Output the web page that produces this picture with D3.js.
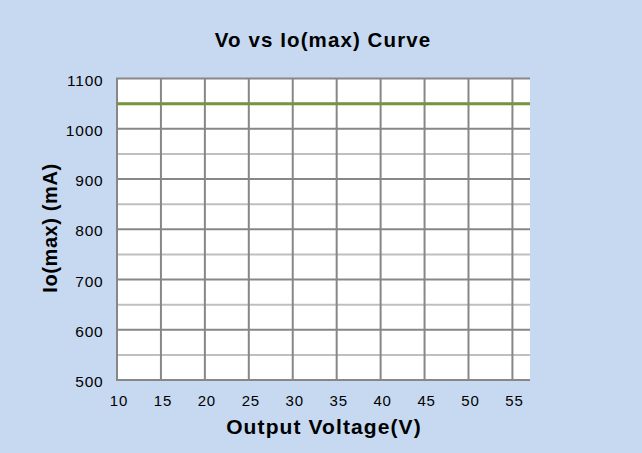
<!DOCTYPE html>
<html>
<head>
<meta charset="utf-8">
<script src="https://cdn.jsdelivr.net/npm/d3@7"></script>
<style>
  body { margin: 0; background: #c6d9f1; }
  text { font-family: "Liberation Sans", Arial, sans-serif; fill: #000; }
</style>
</head>
<body>
<div class="container"></div>
<script>
// data
const voltage = [10, 15, 20, 25, 30, 35, 40, 45, 50, 55, 57]
const current = [1050, 1050, 1050, 1050, 1050, 1050, 1050, 1050, 1050, 1050, 1050]
const xTicks = [10, 15, 20, 25, 30, 35, 40, 45, 50, 55]
const yTicks = [500, 600, 700, 800, 900, 1000, 1100]
const yMinor = [550, 650, 750, 850, 950, 1050]

const width = 642
const height = 453
const margin = { top: 78.5, bottom: 73, left: 117, right: 112 }

let svg = d3.select(".container")
    .append("svg")
    .attr("width", width)
    .attr("height", height)

svg.append("rect")
    .attr("width", width)
    .attr("height", height)
    .attr("fill", "#c6d9f1")

let x = d3.scaleLinear()
    .domain([10, 57])
    .range([margin.left, width - margin.right])

let y = d3.scaleLinear()
    .domain([500, 1100])
    .range([height - margin.bottom, margin.top])

// plot area
svg.append("rect")
    .attr("x", x(10))
    .attr("y", y(1100))
    .attr("width", x(57) - x(10))
    .attr("height", y(500) - y(1100))
    .attr("fill", "#fff")

// minor horizontal grid
svg.append("g")
    .selectAll("line")
    .data(yMinor)
    .enter()
    .append("line")
    .attr("x1", x(10)).attr("x2", x(57))
    .attr("y1", d => y(d)).attr("y2", d => y(d))
    .attr("stroke", "#bfbfbf")
    .attr("stroke-width", 2)

// major horizontal grid
svg.append("g")
    .selectAll("line")
    .data(yTicks)
    .enter()
    .append("line")
    .attr("x1", x(10) - 1).attr("x2", x(57))
    .attr("y1", d => y(d)).attr("y2", d => y(d))
    .attr("stroke", "#878787")
    .attr("stroke-width", 2)

// vertical grid
svg.append("g")
    .selectAll("line")
    .data(xTicks)
    .enter()
    .append("line")
    .attr("x1", d => x(d)).attr("x2", d => x(d))
    .attr("y1", y(1100)).attr("y2", y(500) + 1)
    .attr("stroke", "#878787")
    .attr("stroke-width", 2)

// the curve
let line = d3.line()
    .x((d, i) => x(voltage[i]))
    .y(d => y(d))

svg.append("path")
    .datum(current)
    .attr("d", line)
    .attr("fill", "none")
    .attr("stroke", "#77933c")
    .attr("stroke-width", 3)

// tick labels
svg.append("g")
    .selectAll("text")
    .data(xTicks)
    .enter()
    .append("text")
    .attr("x", d => x(d) + 2)
    .attr("y", 405.5)
    .attr("text-anchor", "middle")
    .style("font-size", "15px")
    .style("letter-spacing", "0.8px")
    .text(d => d)

svg.append("g")
    .selectAll("text")
    .data(yTicks)
    .enter()
    .append("text")
    .attr("x", 103.5)
    .attr("y", d => y(d) + 7)
    .attr("text-anchor", "end")
    .style("font-size", "15.5px")
    .style("letter-spacing", "0.8px")
    .text(d => d)

// titles
svg.append("text")
    .attr("x", 323)
    .attr("y", 46.5)
    .attr("text-anchor", "middle")
    .style("font-size", "20.5px")
    .style("font-weight", "bold")
    .style("letter-spacing", "1.1px")
    .text("Vo vs Io(max) Curve")

svg.append("text")
    .attr("x", 324)
    .attr("y", 434)
    .attr("text-anchor", "middle")
    .style("font-size", "21px")
    .style("font-weight", "bold")
    .style("letter-spacing", "1.1px")
    .text("Output Voltage(V)")

svg.append("text")
    .attr("transform", "translate(57, 228) rotate(-90)")
    .attr("text-anchor", "middle")
    .style("font-size", "20px")
    .style("font-weight", "bold")
    .style("letter-spacing", "0.6px")
    .text("Io(max) (mA)")
</script>
</body>
</html>
